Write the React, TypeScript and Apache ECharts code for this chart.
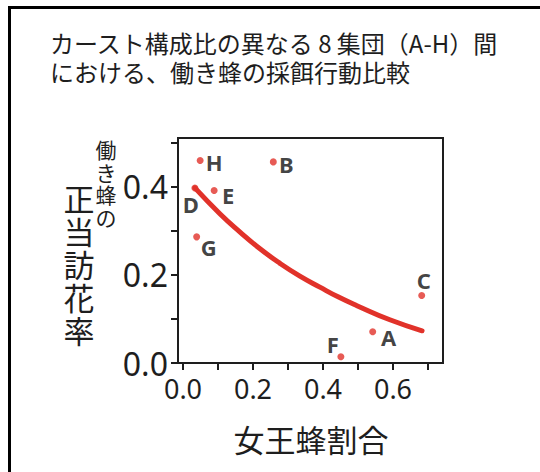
import React, { useEffect, useRef } from "react";
import * as echarts from "echarts";

// ---- data ----
const groups = ["A", "B", "C", "D", "E", "F", "G", "H"];
const queenRatio = [0.542, 0.258, 0.682, 0.034, 0.089, 0.451, 0.039, 0.049];
const legitVisitRate = [0.071, 0.456, 0.153, 0.397, 0.391, 0.014, 0.286, 0.459];

// fitted curve
const fitX = [0.034, 0.106, 0.163, 0.22, 0.277, 0.334, 0.391, 0.443, 0.497, 0.591, 0.683];
const fitY = [0.397, 0.338, 0.297, 0.259, 0.226, 0.197, 0.172, 0.15, 0.13, 0.098, 0.073];

const titleLines = ["カースト構成比の異なる 8 集団（A-H）間", "における、働き蜂の採餌行動比較"];
const xAxisTitle = "女王蜂割合";
const yAxisTitleSmall = ["働", "き", "蜂", "の"];
const yAxisTitleLarge = ["正", "当", "訪", "花", "率"];

// ---- styling (label placement relative to each point, px) ----
const labelOffsets: Record<string, [number, number]> = {
  A: [16, 5],
  B: [13, 2],
  C: [2, -16],
  D: [-4, 16],
  E: [14, 4],
  F: [-8, -13],
  G: [12, 10],
  H: [14, 1],
};

const RED = "#e1322a";
const INK = "#1e1e1e";

function fmtEven(v: number) {
  const k = Math.round(v * 10);
  return k % 2 === 0 ? (k / 10).toFixed(1) : "";
}

export default function App() {
  const ref = useRef<HTMLDivElement>(null);

  useEffect(() => {
    if (!ref.current) return;
    const chart = echarts.init(ref.current, undefined, { renderer: "svg" });

    const scatterData = groups.map((g, i) => ({
      name: g,
      value: [queenRatio[i], legitVisitRate[i]],
      label: { offset: labelOffsets[g] },
    }));
    const lineData = fitX.map((x, i) => [x, fitY[i]]);

    const largeTitleChars = yAxisTitleLarge.map((ch, i) => ({
      type: "text",
      x: 79,
      y: 197 + i * 33,
      style: {
        text: ch,
        fontFamily: "Noto Sans CJK JP",
        fontSize: 31,
        align: "center",
        verticalAlign: "middle",
        fill: INK,
      },
    }));
    const smallTitleChars = yAxisTitleSmall.map((ch, i) => ({
      type: "text",
      x: 106,
      y: 149 + i * 22.5,
      style: {
        text: ch,
        fontFamily: "Noto Sans CJK JP",
        fontSize: 21,
        align: "center",
        verticalAlign: "middle",
        fill: INK,
      },
    }));

    chart.setOption({
      animation: false,
      backgroundColor: "#ffffff",
      title: {
        text: titleLines.join("\n"),
        left: 45,
        top: 23,
        textStyle: {
          fontFamily: "Noto Sans CJK JP",
          fontSize: 24,
          lineHeight: 29,
          fontWeight: "normal",
          color: INK,
        },
      },
      grid: { left: 183, right: 112, top: 142.5, bottom: 109, containLabel: false },
      xAxis: {
        type: "value",
        min: 0,
        max: 0.7,
        interval: 0.1,
        splitLine: { show: false },
        axisLine: { show: true, onZero: false, lineStyle: { color: INK, width: 2 } },
        axisTick: { show: true, length: 7, lineStyle: { color: INK, width: 2 } },
        axisLabel: {
          formatter: fmtEven,
          margin: 12,
          fontFamily: "Noto Sans",
          fontSize: 27,
          color: INK,
          showMinLabel: true,
          showMaxLabel: true,
        },
      },
      yAxis: {
        type: "value",
        min: 0,
        max: 0.5,
        interval: 0.1,
        offset: 5,
        splitLine: { show: false },
        axisLine: { show: true, onZero: false, lineStyle: { color: INK, width: 2 } },
        axisTick: { show: true, length: 7, lineStyle: { color: INK, width: 2 } },
        axisLabel: {
          formatter: fmtEven,
          margin: 10,
          fontFamily: "Noto Sans",
          fontSize: 32,
          color: INK,
          showMinLabel: true,
          showMaxLabel: true,
        },
      },
      series: [
        {
          type: "scatter",
          data: scatterData,
          symbol: "circle",
          symbolSize: 7,
          itemStyle: { color: RED },
          z: 2,
          label: {
            show: true,
            formatter: "{b}",
            position: "inside",
            align: "center",
            verticalAlign: "middle",
            fontFamily: "Noto Sans",
            fontWeight: "bold",
            fontSize: 22,
            color: "#111",
          },
        },
        {
          type: "line",
          data: lineData,
          smooth: true,
          showSymbol: false,
          symbol: "none",
          lineStyle: { color: RED, width: 5, cap: "round" },
          z: 3,
        },
      ],
      graphic: [
        {
          type: "rect",
          shape: { x: 9.5, y: 7.5, width: 700, height: 700 },
          style: { fill: "none", stroke: "#000", lineWidth: 3 },
          silent: true,
        },
        {
          type: "rect",
          shape: { x: 178, y: 138, width: 265, height: 225 },
          style: { fill: "none", stroke: INK, lineWidth: 2 },
          silent: true,
          z: 10,
        },
        ...smallTitleChars,
        ...largeTitleChars,
        {
          type: "text",
          x: 311,
          y: 438,
          style: {
            text: xAxisTitle,
            fontFamily: "Noto Sans CJK JP",
            fontSize: 31,
            align: "center",
            verticalAlign: "middle",
            fill: INK,
          },
        },
      ],
    });

    return () => chart.dispose();
  }, []);

  return (
    <div
      ref={ref}
      style={{ position: "fixed", left: 0, top: 0, width: 540, height: 472, background: "#fff" }}
    />
  );
}
